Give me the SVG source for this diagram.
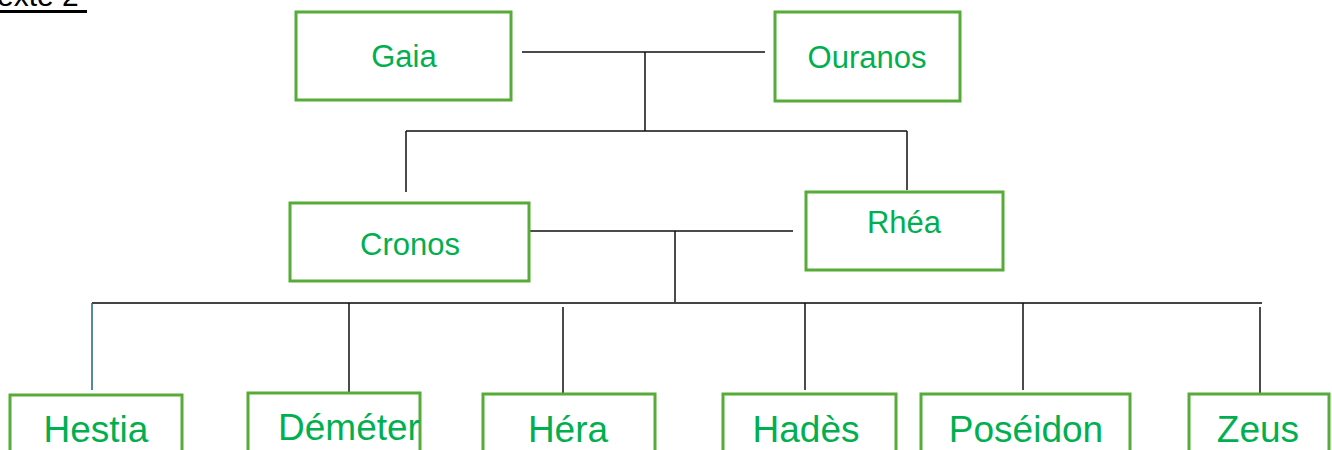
<svg xmlns="http://www.w3.org/2000/svg" width="1332" height="450" viewBox="0 0 1332 450">
<style>
.box{fill:#fff;stroke:#57ab37;stroke-width:3}
.lbl{font-family:"Liberation Sans",Arial,sans-serif;fill:#00b050;text-anchor:middle}
.m{font-size:31px}
.b{font-size:37px}
.ln{stroke:#111;stroke-width:1.5;fill:none}
</style>
<rect width="1332" height="450" fill="#fff"/>
<g id="title">
<text x="-18" y="6" font-family="Liberation Sans, Arial, sans-serif" font-size="30" fill="#000">Texte 2</text>
<rect x="0" y="10" width="87" height="3" fill="#000"/>
</g>
<g id="connectors">
<path class="ln" d="M522 52H765M645 52V131M406 131H907M406 131V192M907 131V190"/>
<path class="ln" d="M529 231H793M675 231V303"/>
<path d="M92 303H1262" stroke="#444" stroke-width="2" fill="none"/>
<path d="M92 303V390" stroke="#1f5f8b" stroke-width="1.5" fill="none"/>
<path class="ln" d="M349 303V393M563 307V393M805 303V390M1023 303V390M1260 307V395"/>
</g>
<g id="gaia"><rect class="box" x="296" y="12" width="215" height="88"/><text class="lbl m" x="404" y="67">Gaia</text></g>
<g id="ouranos"><rect class="box" x="775" y="12" width="185" height="89"/><text class="lbl m" x="867" y="68">Ouranos</text></g>
<g id="cronos"><rect class="box" x="290" y="203" width="239" height="78"/><text class="lbl m" x="410" y="255">Cronos</text></g>
<g id="rhea"><rect class="box" x="806" y="192" width="197" height="78"/><text class="lbl m" x="904" y="233">Rhéa</text></g>
<g id="hestia"><rect class="box" x="10" y="395" width="172" height="70"/><text class="lbl b" x="96" y="442">Hestia</text></g>
<g id="demeter"><rect class="box" x="248" y="393" width="172" height="70"/><text class="lbl b" x="349" y="440">Déméter</text></g>
<g id="hera"><rect class="box" x="483" y="394" width="172" height="70"/><text class="lbl b" x="568" y="442">Héra</text></g>
<g id="hades"><rect class="box" x="723" y="394" width="173" height="70"/><text class="lbl b" x="806" y="442">Hadès</text></g>
<g id="poseidon"><rect class="box" x="921" y="394" width="209" height="70"/><text class="lbl b" x="1026" y="442">Poséidon</text></g>
<g id="zeus"><rect class="box" x="1189" y="394" width="140" height="70"/><text class="lbl b" x="1258" y="442">Zeus</text></g>
</svg>
